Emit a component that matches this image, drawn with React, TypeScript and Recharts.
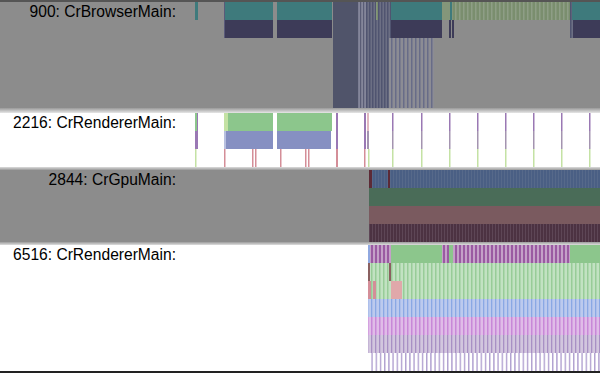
import React from 'react';
import { ComposedChart, XAxis, YAxis, ReferenceArea } from 'recharts';

// [row, rowSpan, start (ms), end (ms), category]
type Slice = [number, number, number, number, string];

const TIME_DOMAIN: [number, number] = [0, 405];

const threadNames = ['900: CrBrowserMain:', '2216: CrRendererMain:', '2844: CrGpuMain:', '6516: CrRendererMain:'];
const threadRows = [6, 3, 4, 7];

const browserSlices: Slice[] = [
  [0, 1, 0, 3, 'teal'],
  [0, 2, 29, 30, 'edge'],
  [0, 1, 30, 78, 'teal'],
  [0, 1, 82, 137, 'teal'],
  [0, 6, 138, 163, 'blueDark'],
  [0, 6, 163, 171, 'blueStripe'],
  [0, 2, 171, 196, 'blueMid'],
  [2, 4, 171, 194, 'blueMid'],
  [2, 4, 194, 239, 'blueLight'],
  [0, 1, 181, 183, 'olive'],
  [0, 1, 196, 247, 'teal'],
  [0, 1, 247, 258, 'olivePale'],
  [0, 1, 255, 257, 'teal'],
  [0, 1, 258, 375, 'olive'],
  [0, 1, 375, 377, 'blueMid'],
  [0, 1, 377, 405, 'teal'],
  [1, 1, 30, 78, 'plum'],
  [1, 1, 82, 137, 'plum'],
  [1, 1, 196, 247, 'plum'],
  [1, 1, 254, 256, 'plum'],
  [1, 1, 257, 259, 'plum'],
  [1, 1, 375, 378, 'blueMid'],
  [1, 1, 378, 405, 'plum'],
];

const renderer2216Slices: Slice[] = [
  [0, 1, 0, 2, 'green'],
  [0, 1, 2, 3, 'purple'],
  [0, 1, 29, 33, 'greenPale'],
  [0, 1, 33, 78, 'green'],
  [0, 1, 82, 137, 'green'],
  [0, 2, 141, 143, 'purple'],
  [0, 2, 169, 171, 'purple'],
  [0, 1, 172, 174, 'pinkPale'],
  [1, 1, 172, 174, 'purpleGrey'],
  [1, 1, 0, 3, 'purple'],
  [1, 1, 29, 31, 'bluePale'],
  [1, 1, 31, 78, 'blue'],
  [1, 1, 82, 136, 'blue'],
  [2, 1, 0, 1.5, 'greenPale'],
  [2, 1, 29, 30.5, 'pink'],
  [2, 1, 57, 58.5, 'pink'],
  [2, 1, 60, 61.5, 'pink'],
  [2, 1, 85, 86.5, 'pink'],
  [2, 1, 110, 111.5, 'pink'],
  [2, 1, 113, 114.5, 'pink'],
  [2, 1, 141, 143, 'pink'],
  [2, 1, 169, 170.5, 'pink'],
  [2, 1, 173, 174.5, 'greenPale'],
];

// periodic frame ticks on renderer 2216 (ms)
const renderer2216Frames = [197, 226, 254, 282, 310, 338, 366, 394];

const gpuSlices: Slice[] = [
  [0, 1, 174, 177, 'darkRed'],
  [0, 1, 177, 193, 'gpuBlue'],
  [0, 1, 193, 195, 'darkRed'],
  [0, 1, 195, 405, 'gpuBlue'],
  [1, 1, 174, 405, 'gpuGreen'],
  [2, 1, 174, 405, 'gpuRed'],
  [3, 1, 174, 405, 'gpuMaroon'],
];

const renderer6516Slices: Slice[] = [
  [0, 1, 173, 175, 'blueLine'],
  [0, 1, 175, 196, 'purpleStripe'],
  [0, 1, 196, 247, 'green'],
  [0, 1, 247, 254, 'purpleStripe'],
  [0, 1, 254, 258, 'green'],
  [0, 1, 258, 375, 'purpleStripe'],
  [0, 1, 375, 405, 'green'],
  [1, 1, 173, 175, 'brown'],
  [1, 1, 175, 194, 'lightGreenStripe'],
  [1, 1, 194, 196, 'brown'],
  [1, 1, 196, 405, 'lightGreenStripe'],
  [2, 1, 173, 176, 'pink'],
  [2, 1, 176, 178, 'lightGreenStripe'],
  [2, 1, 178, 181, 'pink'],
  [2, 1, 181, 196, 'lightGreenStripe'],
  [2, 1, 196, 207, 'pinkBlock'],
  [2, 1, 207, 405, 'lightGreenStripe'],
  [3, 1, 173, 405, 'lightBlueStripe'],
  [4, 1, 173, 405, 'lightPurpleStripe'],
  [5, 1, 173, 405, 'lavenderStripe'],
  [6, 1, 175, 405, 'lavenderLines'],
];

const FILL: Record<string, string> = {
  teal: '#3e7a7c',
  plum: '#3d3b58',
  edge: '#5a5a7a',
  blueDark: '#50546a',
  blueStripe: 'url(#pBlueStripe)',
  blueMid: 'url(#pBlueMid)',
  blueLight: 'url(#pBlueLight)',
  olive: 'url(#pOlive)',
  olivePale: '#84967a',
  green: '#8cc68c',
  greenPale: '#c4e2a4',
  purple: '#9a78b4',
  purpleGrey: '#a494b0',
  blue: '#8690c2',
  bluePale: '#b8c0e0',
  pink: '#d48e98',
  pinkPale: '#e0b8c0',
  pinkBlock: '#e0a8aa',
  darkRed: '#5c2a36',
  gpuBlue: 'url(#pGpuBlue)',
  gpuGreen: '#4a6c58',
  gpuRed: '#7a5a5f',
  gpuMaroon: 'url(#pGpuMaroon)',
  blueLine: '#90a8e0',
  brown: '#8a6060',
  purpleStripe: 'url(#pPurpleStripe)',
  lightGreenStripe: 'url(#pLightGreen)',
  lightBlueStripe: 'url(#pLightBlue)',
  lightPurpleStripe: 'url(#pLightPurple)',
  lavenderStripe: 'url(#pLavender)',
  lavenderLines: 'url(#pLavenderLines)',
};

const ROW_H = 18;

function framesTable(frames: number[]): Slice[] {
  const out: Slice[] = [];
  frames.forEach((t) => {
    out.push([0, 1, t, t + 1.5, 'purple']);
    out.push([1, 1, t, t + 1.5, 'purpleGrey']);
    out.push([2, 1, t, t + 1.5, 'greenPale']);
  });
  return out;
}

function Stripe({ id, base, stripe, w, sw }: { id: string; base: string; stripe: string; w: number; sw: number }) {
  return (
    <pattern id={id} patternUnits="userSpaceOnUse" width={w} height={4}>
      <rect x={0} y={0} width={w} height={4} fill={base} />
      <rect x={0} y={0} width={sw} height={4} fill={stripe} />
    </pattern>
  );
}

function Track({ top, rows, bg, label, slices }: { top: number; rows: number; bg: string; label: string; slices: Slice[] }) {
  const h = rows * ROW_H;
  return (
    <div style={{ position: 'absolute', left: 0, top, width: 600, height: h, background: bg }}>
      <div
        style={{
          position: 'absolute',
          left: 0,
          top: 1,
          width: 176,
          textAlign: 'right',
          fontFamily: '"Liberation Sans", Arial, sans-serif',
          fontSize: 15.6,
          lineHeight: '18px',
          color: '#000',
          whiteSpace: 'nowrap',
        }}
      >
        {label}
      </div>
      <div style={{ position: 'absolute', left: 195, top: 0 }}>
        <ComposedChart width={405} height={h} data={[]} margin={{ top: 0, right: 0, bottom: 0, left: 0 }}>
          <XAxis type="number" dataKey="t" domain={TIME_DOMAIN} hide allowDataOverflow />
          <YAxis type="number" domain={[0, rows]} hide reversed allowDataOverflow />
          {slices.map((s, i) => (
            <ReferenceArea
              key={i}
              x1={s[2]}
              x2={s[3]}
              y1={s[0]}
              y2={s[0] + s[1]}
              fill={FILL[s[4]]}
              fillOpacity={1}
              stroke="none"
            />
          ))}
        </ComposedChart>
      </div>
    </div>
  );
}

function Sep({ top, height, from, to }: { top: number; height: number; from: string; to: string }) {
  return (
    <div
      style={{
        position: 'absolute',
        left: 0,
        top,
        width: 600,
        height,
        background: `linear-gradient(${from}, ${to})`,
        zIndex: 5,
      }}
    />
  );
}

export default function App() {
  return (
    <div style={{ position: 'absolute', left: 0, top: 0, width: 600, height: 373, overflow: 'hidden', background: '#fff' }}>
      <svg width={0} height={0} style={{ position: 'absolute' }}>
        <defs>
          <Stripe id="pBlueStripe" base="#84869a" stripe="#5a5d76" w={3} sw={1.2} />
          <Stripe id="pBlueMid" base="#6c6f84" stripe="#505470" w={3} sw={1.5} />
          <Stripe id="pBlueLight" base="#8c8c94" stripe="#686c88" w={4} sw={1.5} />
          <Stripe id="pOlive" base="#7a8e6e" stripe="#8e9e86" w={4} sw={1.5} />
          <Stripe id="pGpuBlue" base="#4a5f84" stripe="#56698a" w={3} sw={1} />
          <Stripe id="pGpuMaroon" base="#4c3242" stripe="#5e4656" w={3} sw={1} />
          <Stripe id="pPurpleStripe" base="#c4a0c8" stripe="#9a5aa2" w={4} sw={2} />
          <Stripe id="pLightGreen" base="#c2e2c2" stripe="#98cc98" w={4} sw={1.5} />
          <Stripe id="pLightBlue" base="#bccaee" stripe="#8aa8e4" w={4} sw={1.3} />
          <Stripe id="pLightPurple" base="#e0bce8" stripe="#c888d8" w={4} sw={1.5} />
          <Stripe id="pLavender" base="#d2c6de" stripe="#a890c4" w={4} sw={1.3} />
          <Stripe id="pLavenderLines" base="#ffffff" stripe="#b0a0d0" w={4.2} sw={1.4} />
        </defs>
      </svg>
      <div style={{ position: 'absolute', left: 0, top: 0, width: 600, height: 2, background: '#555', zIndex: 5 }} />
      <Track top={2} rows={threadRows[0]} bg="#8c8c8c" label={threadNames[0]} slices={browserSlices} />
      <Sep top={108} height={5} from="#9a9a9a" to="#e6e6e6" />
      <Track
        top={113}
        rows={threadRows[1]}
        bg="#ffffff"
        label={threadNames[1]}
        slices={[...renderer2216Slices, ...framesTable(renderer2216Frames)]}
      />
      <Sep top={167} height={3} from="#dcdcdc" to="#9a9a9a" />
      <Track top={170} rows={threadRows[2]} bg="#8c8c8c" label={threadNames[2]} slices={gpuSlices} />
      <Sep top={242} height={3} from="#9c9c9c" to="#dedede" />
      <Track top={245} rows={threadRows[3]} bg="#ffffff" label={threadNames[3]} slices={renderer6516Slices} />
      <div style={{ position: 'absolute', left: 0, top: 371, width: 600, height: 2, background: '#222', zIndex: 5 }} />
    </div>
  );
}
